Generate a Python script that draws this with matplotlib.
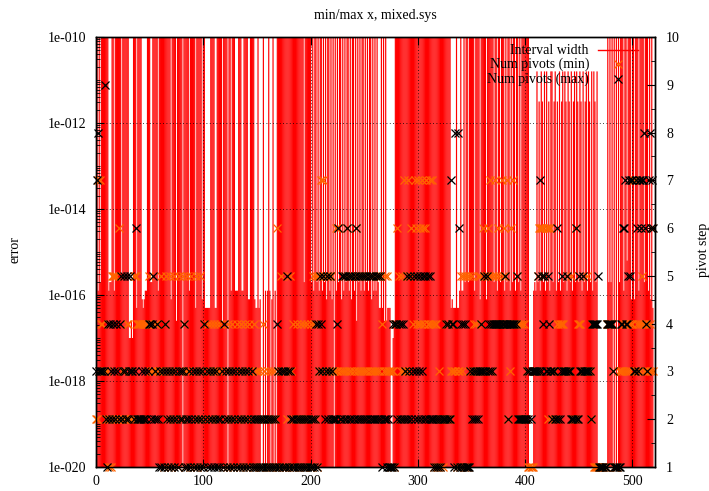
import numpy as np
import matplotlib
matplotlib.use('Agg')
import matplotlib.pyplot as plt
from matplotlib.lines import Line2D
from matplotlib.ticker import FixedLocator, FuncFormatter, MultipleLocator, LogLocator, NullFormatter

plt.rcParams['font.family'] = ['Liberation Serif', 'DejaVu Serif']
plt.rcParams['font.size'] = 10

# interval width per pivot step, coded as log10 of the width
# ('.' = no value, 'T' = off the top of the chart)
WIDTH_EXP = {'a': -17.0, 'b': -16.6, 'c': -16.3, 'd': -16.1, 'e': -15.9,
             'f': -15.7, 'g': -15.5, 'h': -15.2, 'V': -11.5, 'U': -10.8,
             'T': -9.0}
width_codes = (
    "dTeTfTTTTT" "TTeffTTeTT" "TTTTgTTTTT" "TaabaTTTcT" "TTTdcdeeTT"
    "TffTTTTTeT" "TTTTTTTTTT" "dTTTTbTTTT" "T.TTTTTeTT" "TTTcTTTTTd"
    "TTcccccTTT" "TccTTTTTbT" "TTT.TTeTTT" "eeeTTTeeTT" "TTddTTTTdc"
    "cTcd..T.e." "eTe.dT.e.T" "TTTTTTTTTT" "TTTTTTTTTT" "TTTTfTTTTT"
    "TfTeTTfTeT" "TeTfTdTTeT" "dT.TeTfTTd" "TeTfTTeTdT" "TeTbTfTeTT"
    "eTfTeTTdTe" "TeTfccTcTb" "Tbccc..abT" "TTTTTTTTTT" "TTTTTTTTTT"
    "TTTTTTTTTT" "TTTTTTTTTT" "TTTTTTTTTT" "TcdcccTcce" "TeeTfTTfTT"
    "TTTeTTTTdT" "TTTTdTTTTT" "TfTTeTTfTT" "TeTfTTeTfT" "TeTTfTeTTT"
    "TTTT....ef" "eUfVeUVfUe" "UfVeUUfVUe" "VfUeVUfUVe" "UVfUeVUfUV"
    "fUVeUfVUeU" "VfUeUVfU.." ".......TfT" "fT.T.T.TfT" "TTeTThTTTd"
    "TTdTTTeTTT" "TfTTTeTdTc"
)

pivots_min = (
    "2273744332" "3212155525" "2622323224" "4232255544" "4424444445"
    "4333344433" "3531452135" "1325321523" "2541353315" "3125123523"
    "1423423423" "4334234314" "2314312412" "3423143124" "1234231413"
    "3213124312" "3213123216" "3151313123" "1531412421" "2421412421"
    "4154251535" "7375355355" "3332636323" "5353653535" "3563535353"
    "5353535353" "3535355435" "3533313314" "4652353733" "5735645764"
    "7464764674" "4747414411" "3121224242" "2334331331" "5351515153"
    "5343435354" "3653565735" "5475465475" "6547243647" "4454242424"
    "2231111133" "3356666656" "6266323322" "4444443335" "3335222624"
    "4433533353" "3244111111" "1111114444" "4431111333" "3434343434"
    "4773434345" "4343434363"
)

pivots_max = (
    "3783333392" "1424324324" "3245235325" "2353323622" "2223223234"
    "4245232421" "3131432132" "1321321323" "2341212312" "3123123123"
    "1423123123" "1231212314" "2312312312" "3123123123" "1231231212"
    "1212121212" "1212121214" "3131313153" "1321212121" "2121212121"
    "2121241435" "4352352352" "3222246225" "5252652525" "2562525252"
    "5252525252" "2525252122" "2121111414" "4242424232" "5235235235"
    "2352352525" "2522212121" "2122224242" "2744181861" "4141411113"
    "2323232334" "3353534343" "4444444444" "4544244444" "4452222222"
    "2232323333" "3353735453" "3543323322" "6223533335" "3332222622"
    "5333533333" "3244444451" "1111114444" "4431111114" "4667445757"
    "7337637767" "7864378676"
)

steps = np.arange(len(width_codes))
widths = np.array([np.nan if c == '.' else 10.0 ** WIDTH_EXP[c] for c in width_codes])
pmin = np.array([int(c) for c in pivots_min])
pmax = np.array([int(c) for c in pivots_max])

W, H = 709, 491
RED = '#ff0000'
ORANGE = '#ff6400'


def fx(px):
    return px / W


def fy(py):
    return 1 - py / H


fig = plt.figure(figsize=(W / 100, H / 100), dpi=100)
ax = fig.add_axes([fx(96), fy(467), (655 - 96) / W, (467 - 37) / H])
ax.set_yscale('log')
ax.set_xlim(0, 521)
ax.set_ylim(1e-20, 1e-10)

ok = ~np.isnan(widths)
bars = ax.vlines(steps[ok], 1e-21, widths[ok], color=RED, lw=0.85, zorder=2)
bars.set_snap(False)

ax.xaxis.set_major_locator(MultipleLocator(100))
ax.yaxis.set_major_locator(FixedLocator([10.0 ** e for e in range(-20, -9, 2)]))
ax.yaxis.set_major_formatter(FuncFormatter(lambda v, p: '1e-%03d' % round(-np.log10(v))))
ax.yaxis.set_minor_locator(LogLocator(base=10, subs=np.arange(1, 10), numticks=200))
ax.yaxis.set_minor_formatter(NullFormatter())
ax.tick_params(which='both', direction='in', top=True, right=False, colors='k')
ax.tick_params(which='major', length=6, width=0.8)
ax.tick_params(which='minor', length=3, width=0.6)
ax.tick_params(axis='y', pad=7)
ax.tick_params(axis='x', pad=6)
ax.set_axisbelow(False)
ax.grid(True, which='major', color='k', lw=0.6, ls=(0, (1, 3)))

ax2 = ax.twinx()
ax2.set_ylim(1, 10)
ax2.yaxis.set_major_locator(MultipleLocator(1))
ax2.yaxis.set_minor_locator(MultipleLocator(0.5))
ax2.tick_params(which='both', direction='in', colors='k')
ax2.tick_params(which='major', length=6, width=0.8, pad=8)
ax2.tick_params(which='minor', length=3, width=0.6)
ax2.plot(steps, pmin, ls='none', marker='x', color=ORANGE, ms=6, mew=0.9, clip_on=False)
ax2.plot(steps, pmax, ls='none', marker='x', color='k', ms=6, mew=0.9, clip_on=False)

for a in (ax, ax2):
    for s in a.spines.values():
        s.set_linewidth(1.0)

# key, drawn by hand so the text is right aligned like gnuplot
fig.text(fx(589), fy(50), 'Interval width', ha='right', va='center', zorder=1)
ax.add_line(Line2D([fx(598), fx(638)], [fy(50), fy(50)], transform=fig.transFigure,
                   color=RED, lw=1.0, clip_on=False))
fig.text(fx(589), fy(64), 'Num pivots (min)', ha='right', va='center', zorder=5)
fig.add_artist(Line2D([fx(618)], [fy(64)], ls='none', marker='x', color=ORANGE, ms=6, mew=0.9))
fig.text(fx(589), fy(79), 'Num pivots (max)', ha='right', va='center', zorder=5)
fig.add_artist(Line2D([fx(618)], [fy(79)], ls='none', marker='x', color='k', ms=6, mew=0.9))

fig.text(fx(375), fy(15), 'min/max x, mixed.sys', ha='center', va='center')
fig.text(fx(15), fy(250), 'error', ha='center', va='center', rotation=90)
fig.text(fx(703), fy(250), 'pivot step', ha='center', va='center', rotation=90)

fig.savefig('out.png', dpi=100)
